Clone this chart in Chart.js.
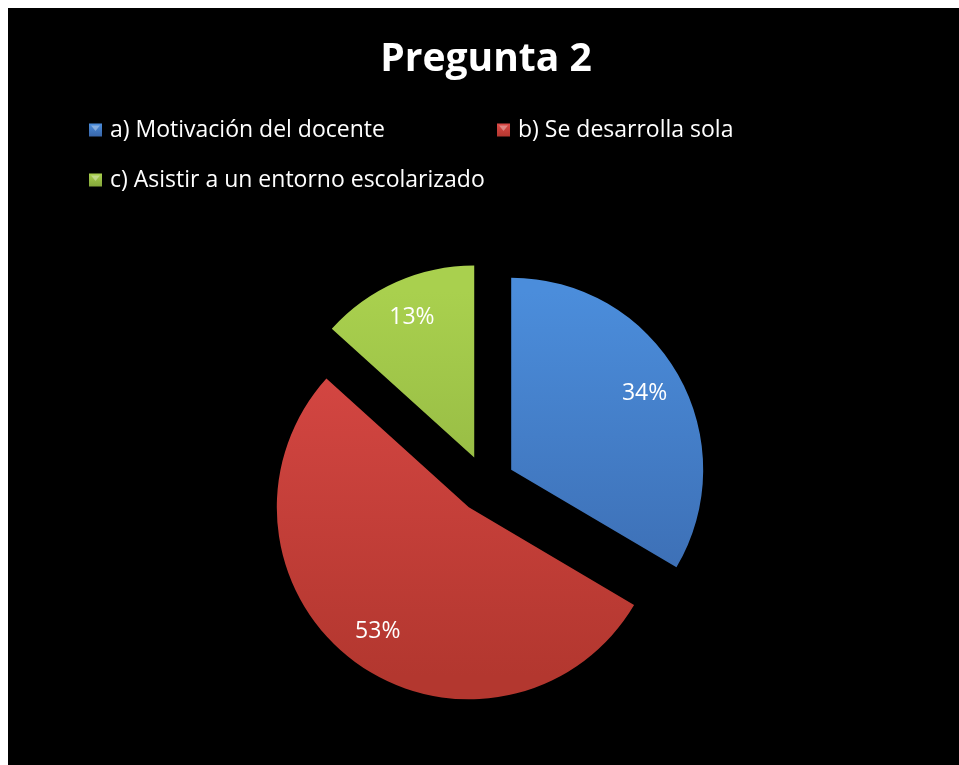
<!DOCTYPE html>
<html>
<head>
<meta charset="utf-8">
<script src="https://cdn.jsdelivr.net/npm/chart.js@4.4.1/dist/chart.umd.min.js"></script>
<style>
  html, body { margin: 0; padding: 0; background: #fff; }
  .frame { position: absolute; left: 8px; top: 8px; width: 951px; height: 757px; background: #000; }
  canvas { display: block; }
</style>
</head>
<body>
<div class="frame"><canvas id="chart" width="951" height="757"></canvas></div>
<script>
const chartTitle = 'Pregunta 2';
const categories = ['a) Motivación del docente', 'b) Se desarrolla sola', 'c) Asistir a un entorno escolarizado'];
const percentages = [33.5, 53.2, 13.3];
const topColors = ['#4b8ddb', '#dc4a47', '#a9d04e'];
const bottomColors = ['#3865a8', '#b3372f', '#84a63a'];

const FONT = '"Open Sans", sans-serif';
const pieRadius = 192;
const explode = 29;   // px each slice is pulled out

// gradient fill, light at the top of the pie, darker at the bottom
function sliceFill(ctx) {
  const i = ctx.dataIndex;
  const area = ctx.chart.chartArea;
  if (i === undefined || !area) return topColors[0];
  const cy = (area.top + area.bottom) / 2;
  const g = ctx.chart.ctx.createLinearGradient(0, cy - pieRadius, 0, cy + pieRadius);
  g.addColorStop(0, topColors[i]);
  g.addColorStop(1, bottomColors[i]);
  return g;
}

// pull each arc out along its middle angle
const explodePlugin = {
  id: 'explode',
  beforeDatasetsDraw(chart) {
    const area = chart.chartArea;
    const cx = (area.left + area.right) / 2;
    const cy = (area.top + area.bottom) / 2;
    chart.getDatasetMeta(0).data.forEach(arc => {
      const mid = (arc.startAngle + arc.endAngle) / 2;
      arc.x = cx + Math.cos(mid) * explode;
      arc.y = cy + Math.sin(mid) * explode;
    });
  }
};

// percentage labels inside the slices
const labelPlugin = {
  id: 'sliceLabels',
  afterDatasetsDraw(chart) {
    const c = chart.ctx;
    const total = percentages.reduce((a, b) => a + b, 0);
    c.save();
    c.fillStyle = '#fff';
    c.font = '23px ' + FONT;
    c.textAlign = 'center';
    c.textBaseline = 'middle';
    chart.getDatasetMeta(0).data.forEach((arc, i) => {
      const mid = (arc.startAngle + arc.endAngle) / 2;
      const r = arc.outerRadius * 0.8;
      const txt = Math.round(percentages[i] / total * 100) + '%';
      c.fillText(txt, arc.x + Math.cos(mid) * r, arc.y + Math.sin(mid) * r);
    });
    c.restore();
  }
};

// legend laid out in two columns like the original
const legendPlugin = {
  id: 'gridLegend',
  afterDraw(chart) {
    const c = chart.ctx;
    const cols = [81, 489];
    const rows = [122, 172];
    const box = 13;
    c.save();
    c.font = '23px ' + FONT;
    c.textBaseline = 'middle';
    categories.forEach((label, i) => {
      const x = cols[i % 2];
      const y = rows[Math.floor(i / 2)];
      const g = c.createLinearGradient(0, y - box / 2, 0, y + box / 2);
      g.addColorStop(0, topColors[i]);
      g.addColorStop(1, bottomColors[i]);
      c.fillStyle = g;
      c.fillRect(x, y - box / 2, box, box);
      // little bevel triangle
      c.fillStyle = 'rgba(255,255,255,0.35)';
      c.beginPath();
      c.moveTo(x + 2, y - box / 2 + 2);
      c.lineTo(x + box - 2, y - box / 2 + 2);
      c.lineTo(x + box / 2, y + 1);
      c.closePath();
      c.fill();
      c.fillStyle = '#fff';
      c.fillText(label, x + 21, y);
    });
    c.restore();
  }
};

new Chart(document.getElementById('chart'), {
  type: 'pie',
  data: {
    labels: categories,
    datasets: [{
      data: percentages,
      backgroundColor: sliceFill,
      borderWidth: 0,
      radius: pieRadius
    }]
  },
  options: {
    responsive: false,
    animation: false,
    layout: { padding: { left: 200, right: 195, top: 10, bottom: 40 } },
    plugins: {
      legend: { display: false },
      tooltip: { enabled: false },
      title: {
        display: true,
        text: chartTitle,
        color: '#fff',
        font: { family: FONT, size: 39, weight: 'bold' },
        padding: { top: 18.6, bottom: 159.6 }
      }
    }
  },
  plugins: [explodePlugin, labelPlugin, legendPlugin]
});
</script>
</body>
</html>
